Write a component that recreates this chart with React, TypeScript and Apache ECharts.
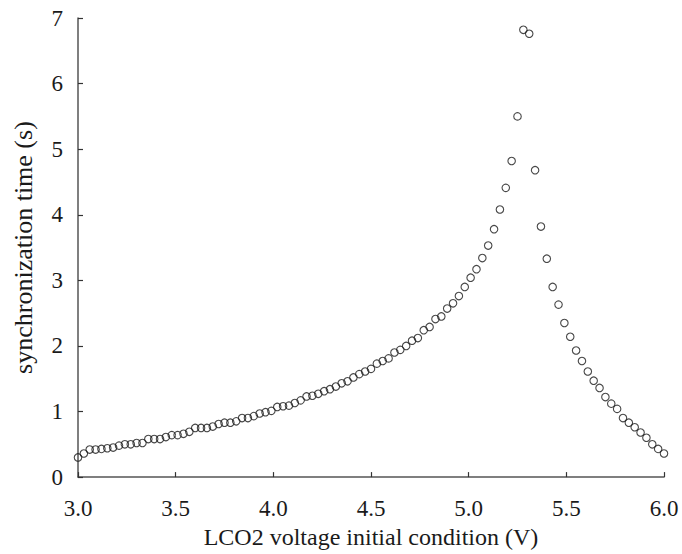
import React, { useEffect, useRef } from "react";
import * as echarts from "echarts";

// x: LCO2 voltage initial condition (V), sampled every 0.03 V from 3.00 to 6.00
const xStart = 3.0;
const xStep = 0.03;
// synchronization time (s), one per voltage
const syncTimes: number[] = [
  0.30, 0.36, 0.42, 0.42, 0.43, 0.44, 0.45, 0.48, 0.50, 0.50,
  0.52, 0.52, 0.58, 0.58, 0.58, 0.61, 0.64, 0.64, 0.66, 0.69,
  0.75, 0.75, 0.75, 0.77, 0.81, 0.83, 0.83, 0.85, 0.90, 0.90,
  0.93, 0.97, 0.99, 1.01, 1.07, 1.08, 1.09, 1.13, 1.17, 1.23,
  1.24, 1.27, 1.31, 1.34, 1.38, 1.43, 1.46, 1.52, 1.57, 1.61,
  1.65, 1.73, 1.77, 1.81, 1.90, 1.94, 2.00, 2.08, 2.12, 2.24,
  2.29, 2.41, 2.45, 2.57, 2.65, 2.76, 2.90, 3.04, 3.17, 3.34,
  3.53, 3.78, 4.08, 4.41, 4.82, 5.50, 6.82, 6.76, 4.68, 3.82,
  3.33, 2.90, 2.63, 2.35, 2.14, 1.93, 1.77, 1.61, 1.47, 1.36,
  1.22, 1.12, 1.04, 0.90, 0.83, 0.76, 0.68, 0.60, 0.50, 0.43,
  0.36,
];
const voltages: number[] = syncTimes.map((_, i) => +(xStart + i * xStep).toFixed(2));

const xTicks = [3.0, 3.5, 4.0, 4.5, 5.0, 5.5, 6.0];
const yTicks = [0, 1, 2, 3, 4, 5, 6, 7];

const FONT = "'Liberation Serif', 'Times New Roman', serif";

export default function App() {
  const ref = useRef<HTMLDivElement>(null);
  useEffect(() => {
    if (!ref.current) return;
    const chart = echarts.init(ref.current, undefined, { renderer: "svg" });
    chart.setOption({
      animation: false,
      backgroundColor: "#fff",
      grid: { left: 78, right: 18, top: 18, bottom: 73, containLabel: false },
      xAxis: {
        type: "value",
        min: xTicks[0],
        max: xTicks[xTicks.length - 1],
        interval: 0.5,
        name: "LCO2 voltage initial condition (V)",
        nameLocation: "middle",
        nameGap: 47,
        nameTextStyle: { fontFamily: FONT, fontSize: 24, color: "#1a1a1a" },
        axisLine: { show: true, lineStyle: { color: "#555", width: 1.5 } },
        axisTick: { show: true, inside: true, length: 5, lineStyle: { color: "#333", width: 1.2 } },
        axisLabel: {
          fontFamily: FONT,
          fontSize: 23,
          color: "#1a1a1a",
          margin: 20,
          formatter: (v: number) => v.toFixed(1),
        },
        splitLine: { show: false },
      },
      yAxis: {
        type: "value",
        min: yTicks[0],
        max: yTicks[yTicks.length - 1],
        interval: 1,
        name: "synchronization time (s)",
        nameLocation: "middle",
        nameRotate: 90,
        nameGap: 42,
        nameTextStyle: { fontFamily: FONT, fontSize: 26, color: "#1a1a1a" },
        axisLine: { show: true, lineStyle: { color: "#555", width: 1.5 } },
        axisTick: { show: true, inside: true, length: 5, lineStyle: { color: "#333", width: 1.2 } },
        axisLabel: { fontFamily: FONT, fontSize: 23, color: "#1a1a1a", margin: 15 },
        splitLine: { show: false },
      },
      series: [
        {
          type: "scatter",
          data: voltages.map((v, i) => [v, syncTimes[i]]),
          symbol: "circle",
          symbolSize: 7.5,
          itemStyle: { color: "transparent", borderColor: "#1a1a1a", borderWidth: 1.1 },
          emphasis: { disabled: true },
        },
      ],
    });
    return () => chart.dispose();
  }, []);
  return (
    <div
      ref={ref}
      style={{ position: "fixed", left: 0, top: 0, width: 682, height: 554, background: "#fff" }}
    />
  );
}
